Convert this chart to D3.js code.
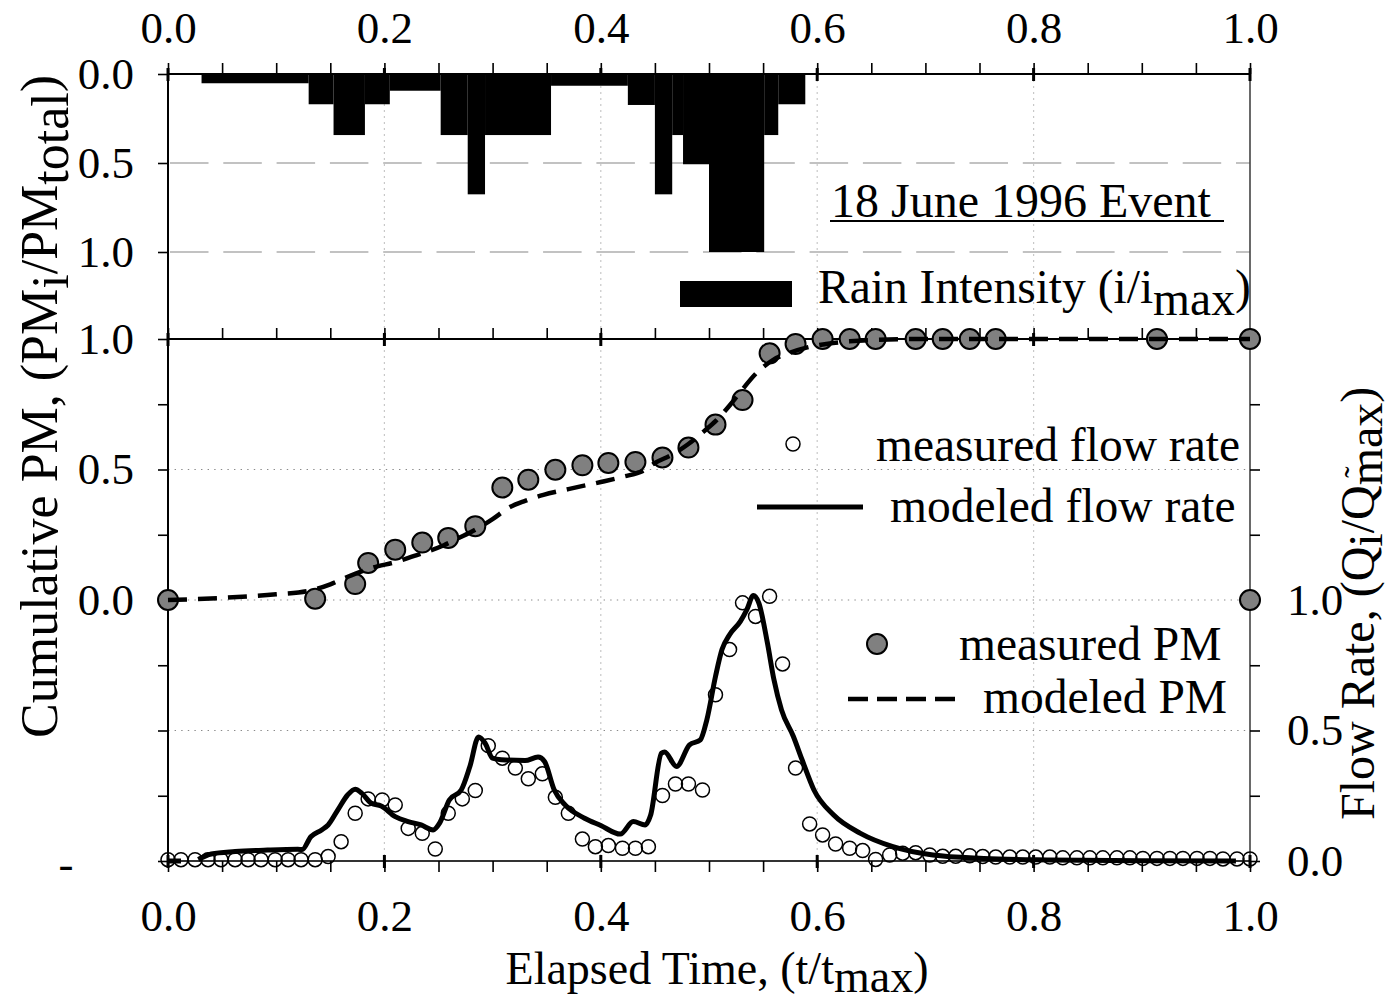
<!DOCTYPE html>
<html>
<head>
<meta charset="utf-8">
<script src="https://cdn.jsdelivr.net/npm/d3@7"></script>
<style>
  body { margin: 0; background: #fff; }
  svg { display: block; font-family: "Liberation Serif", "Times New Roman", serif; }
</style>
</head>
<body>
<svg id="chart" width="1394" height="1003"></svg>
<script>
// Rain hyetograph: interval edges (t/tmax) and normalised intensity (i/imax) per interval
const rainEdges = [0.031, 0.130, 0.153, 0.182, 0.205, 0.252, 0.277, 0.293, 0.354, 0.425, 0.450, 0.466, 0.476, 0.500, 0.551, 0.564, 0.589];
const rainIntensity = [0.052, 0.170, 0.343, 0.170, 0.094, 0.343, 0.676, 0.343, 0.066, 0.174, 0.676, 0.343, 0.507, 1.000, 0.343, 0.170];

// Measured cumulative PM (PMi/PMtotal)
const pmTime = [0.000, 0.136, 0.173, 0.185, 0.210, 0.235, 0.259, 0.284, 0.309, 0.333, 0.358, 0.383, 0.407, 0.432, 0.457, 0.481, 0.506, 0.531, 0.556, 0.580, 0.605, 0.630, 0.654, 0.691, 0.716, 0.741, 0.765, 0.914, 1.000, 1.000];
const pmMeasured = [0.000, 0.005, 0.061, 0.142, 0.193, 0.220, 0.238, 0.283, 0.431, 0.461, 0.499, 0.516, 0.525, 0.529, 0.546, 0.584, 0.672, 0.766, 0.945, 0.981, 1.000, 1.000, 1.000, 1.000, 1.000, 1.000, 1.000, 1.000, 1.000, 0.000];

// Modelled cumulative PM
const pmModelTime = [0.000, 0.050, 0.100, 0.130, 0.150, 0.165, 0.190, 0.210, 0.230, 0.255, 0.270, 0.288, 0.300, 0.316, 0.330, 0.347, 0.370, 0.400, 0.420, 0.440, 0.450, 0.465, 0.480, 0.495, 0.507, 0.520, 0.529, 0.544, 0.559, 0.575, 0.590, 0.610, 0.630, 0.650, 0.700, 1.000];
const pmModel = [0.000, 0.008, 0.022, 0.035, 0.060, 0.087, 0.125, 0.145, 0.172, 0.210, 0.240, 0.279, 0.310, 0.356, 0.380, 0.403, 0.425, 0.452, 0.472, 0.497, 0.525, 0.555, 0.595, 0.645, 0.689, 0.750, 0.797, 0.870, 0.919, 0.948, 0.967, 0.982, 0.991, 0.996, 1.000, 1.000];

// Measured flow rate (Qi/Qmax)
const flowTime = [0.000, 0.012, 0.025, 0.037, 0.049, 0.062, 0.074, 0.086, 0.099, 0.111, 0.123, 0.136, 0.148, 0.160, 0.173, 0.185, 0.198, 0.210, 0.222, 0.235, 0.247, 0.259, 0.272, 0.284, 0.296, 0.309, 0.321, 0.333, 0.346, 0.358, 0.370, 0.383, 0.395, 0.407, 0.420, 0.432, 0.444, 0.457, 0.469, 0.481, 0.494, 0.506, 0.519, 0.531, 0.543, 0.556, 0.568, 0.580, 0.593, 0.605, 0.617, 0.630, 0.642, 0.654, 0.667, 0.679, 0.691, 0.704, 0.716, 0.728, 0.741, 0.753, 0.765, 0.778, 0.790, 0.802, 0.815, 0.827, 0.840, 0.852, 0.864, 0.877, 0.889, 0.901, 0.914, 0.926, 0.938, 0.951, 0.963, 0.975, 0.988, 1.000];
const flowMeasured = [0.005, 0.005, 0.005, 0.005, 0.005, 0.005, 0.005, 0.005, 0.005, 0.005, 0.005, 0.005, 0.017, 0.074, 0.183, 0.238, 0.234, 0.215, 0.125, 0.106, 0.046, 0.183, 0.238, 0.270, 0.442, 0.394, 0.356, 0.315, 0.334, 0.244, 0.183, 0.084, 0.055, 0.059, 0.049, 0.049, 0.055, 0.251, 0.295, 0.295, 0.272, 0.637, 0.810, 0.989, 0.937, 1.014, 0.755, 0.356, 0.142, 0.100, 0.065, 0.049, 0.040, 0.006, 0.023, 0.030, 0.032, 0.023, 0.018, 0.018, 0.020, 0.017, 0.015, 0.015, 0.015, 0.015, 0.015, 0.012, 0.012, 0.012, 0.012, 0.012, 0.012, 0.010, 0.010, 0.010, 0.010, 0.010, 0.010, 0.008, 0.008, 0.008];

// Modelled flow rate (null marks a break in the curve)
const flowModelTime = [0.000, 0.012, 0.020, 0.028, 0.040, 0.062, 0.092, 0.120, 0.124, 0.132, 0.142, 0.148, 0.157, 0.166, 0.173, 0.179, 0.188, 0.197, 0.210, 0.222, 0.234, 0.245, 0.251, 0.260, 0.271, 0.279, 0.287, 0.293, 0.300, 0.308, 0.330, 0.342, 0.348, 0.357, 0.367, 0.385, 0.400, 0.418, 0.430, 0.441, 0.446, 0.456, 0.459, 0.470, 0.482, 0.492, 0.498, 0.506, 0.512, 0.519, 0.529, 0.535, 0.541, 0.546, 0.554, 0.560, 0.567, 0.578, 0.586, 0.597, 0.615, 0.640, 0.670, 0.707, 0.754, 0.815, 0.900, 0.987];
const flowModel = [0.000, 0.000, null, 0.006, 0.027, 0.036, 0.042, 0.045, 0.044, 0.093, 0.119, 0.138, 0.196, 0.253, 0.275, 0.260, 0.221, 0.211, 0.170, 0.151, 0.138, 0.119, 0.145, 0.234, 0.272, 0.362, 0.475, 0.452, 0.394, 0.388, 0.385, 0.398, 0.381, 0.272, 0.215, 0.164, 0.136, 0.103, 0.151, 0.138, 0.175, 0.413, 0.418, 0.362, 0.445, 0.464, 0.541, 0.707, 0.810, 0.867, 0.918, 0.963, 1.017, 0.989, 0.835, 0.695, 0.579, 0.477, 0.388, 0.272, 0.177, 0.106, 0.055, 0.023, 0.010, 0.004, 0.001, 0.000];

// Tick values
const timeTicks = [0, 0.2, 0.4, 0.6, 0.8, 1.0];
const rainTicks = [0, 0.5, 1.0];
const pmTicks = [0, 0.5, 1.0];
const flowTicks = [0, 0.5, 1.0];

const FONT = '"Liberation Serif", "Times New Roman", serif';
const svg = d3.select("#chart");

const x = d3.scaleLinear().domain([0, 1]).range([168, 1250]);
const yRain = d3.scaleLinear().domain([0, 1]).range([74, 252]);
const yPM = d3.scaleLinear().domain([-1, 1]).range([861, 339]);
const yFlow = d3.scaleLinear().domain([0, 2]).range([861, 339]);

const minorT = d3.range(0, 1.0001, 0.05);
const pmQuarter = d3.range(-1, 1.0001, 0.25);
const flowQuarter = d3.range(0, 2.0001, 0.25);

// ---------- grid ----------
const grid = svg.append("g");
grid.selectAll("line.v").data(timeTicks.slice(1, -1)).join("line")
  .attr("x1", d => x(d)).attr("x2", d => x(d))
  .attr("y1", yRain(0)).attr("y2", yPM(-1))
  .attr("stroke", "#c8c8c8").attr("stroke-width", 1.2).attr("stroke-dasharray", "2,4");
grid.selectAll("line.r").data(rainTicks.slice(1)).join("line")
  .attr("x1", x(0) + 2).attr("x2", x(1))
  .attr("y1", d => yRain(d)).attr("y2", d => yRain(d))
  .attr("stroke", "#c2c2c2").attr("stroke-width", 2).attr("stroke-dasharray", "38.5,14.8");
grid.selectAll("line.h").data([yPM(0.5), yPM(0), yFlow(0.5)]).join("line")
  .attr("x1", x(0)).attr("x2", x(1))
  .attr("y1", d => d).attr("y2", d => d)
  .attr("stroke", "#8a8a8a").attr("stroke-width", 1.2).attr("stroke-dasharray", "1.4,5.2");

// ---------- rain bars ----------
svg.append("g").selectAll("rect").data(rainIntensity).join("rect")
  .attr("x", (d, i) => x(rainEdges[i]))
  .attr("width", (d, i) => x(rainEdges[i + 1]) - x(rainEdges[i]))
  .attr("y", yRain(0))
  .attr("height", d => yRain(d) - yRain(0))
  .attr("fill", "#000");

// ---------- axes ----------
function styleAxis(g, size) {
  g.attr("font-family", FONT).attr("font-size", size);
  g.select(".domain").remove();
  g.selectAll("line").attr("stroke", "#000").attr("stroke-width", 1.6);
  g.selectAll("text").attr("fill", "#000");
}

// frame
const frame = svg.append("g").attr("stroke", "#000").attr("stroke-width", 2).attr("fill", "none");
frame.append("line").attr("x1", x(0)).attr("x2", x(1)).attr("y1", yRain(0)).attr("y2", yRain(0));
frame.append("line").attr("x1", x(0)).attr("x2", x(1)).attr("y1", yPM(1)).attr("y2", yPM(1));
frame.append("line").attr("x1", x(0)).attr("x2", x(1)).attr("y1", yPM(-1)).attr("y2", yPM(-1)).attr("stroke", "#333");
frame.append("line").attr("x1", x(0)).attr("x2", x(0)).attr("y1", yRain(0)).attr("y2", yPM(-1));
frame.append("line").attr("x1", x(1)).attr("x2", x(1)).attr("y1", yRain(0)).attr("y2", yPM(-1)).attr("stroke", "#444").attr("stroke-width", 1.6);

// minor time ticks on the three horizontal rules
[[yRain(0), "top"], [yPM(1), "top"], [yPM(-1), "bottom"]].forEach(([yy, side]) => {
  const ax = side === "top" ? d3.axisTop(x) : d3.axisBottom(x);
  svg.append("g").attr("transform", `translate(0,${yy})`)
    .call(ax.tickValues(minorT).tickSize(11).tickSizeOuter(0).tickFormat(""))
    .call(g => styleAxis(g, 10));
  // major ticks cross the rule
  svg.append("g").selectAll("line").data(timeTicks).join("line")
    .attr("x1", d => x(d)).attr("x2", d => x(d))
    .attr("y1", yy - 6).attr("y2", yy + 7)
    .attr("stroke", "#000").attr("stroke-width", 3);
});

// time labels, top and bottom
svg.append("g").attr("transform", `translate(0,${yRain(0)})`)
  .call(d3.axisTop(x).tickValues(timeTicks).tickSize(0).tickPadding(31).tickFormat(d3.format(".1f")))
  .call(g => styleAxis(g, 45));
svg.append("g").attr("transform", `translate(0,${yPM(-1)})`)
  .call(d3.axisBottom(x).tickValues(timeTicks).tickSize(0).tickPadding(38).tickFormat(d3.format(".1f")))
  .call(g => styleAxis(g, 45));

// left: rain intensity
svg.append("g").attr("transform", `translate(${x(0)},0)`)
  .call(d3.axisLeft(yRain).tickValues(rainTicks).tickSize(10).tickSizeOuter(0).tickPadding(24).tickFormat(d3.format(".1f")))
  .call(g => styleAxis(g, 45));
// left: cumulative PM
svg.append("g").attr("transform", `translate(${x(0)},0)`)
  .call(d3.axisLeft(yPM).tickValues(pmQuarter).tickSize(10).tickSizeOuter(0).tickPadding(24)
    .tickFormat(d => pmTicks.includes(d) ? d.toFixed(1) : ""))
  .call(g => styleAxis(g, 45));
svg.append("text").attr("x", 66).attr("y", yPM(-1) + 4).attr("text-anchor", "middle")
  .attr("dy", "0.32em").attr("font-size", 45).text("-");
// right: flow rate
svg.append("g").attr("transform", `translate(${x(1)},0)`)
  .call(d3.axisRight(yFlow).tickValues(flowQuarter).tickSize(10).tickSizeOuter(0).tickPadding(27)
    .tickFormat(d => flowTicks.includes(d) ? d.toFixed(1) : ""))
  .call(g => styleAxis(g, 45));

// ---------- measured flow rate (open circles) ----------
svg.append("g").selectAll("circle").data(flowMeasured).join("circle")
  .attr("cx", (d, i) => x(flowTime[i])).attr("cy", d => yFlow(d)).attr("r", 7)
  .attr("fill", "none").attr("stroke", "#000").attr("stroke-width", 1.5);

// ---------- modelled flow rate ----------
const flowPts = flowModel.map((q, i) => [flowModelTime[i], q]);
svg.append("path").datum(flowPts)
  .attr("d", d3.line().defined(d => d[1] !== null).x(d => x(d[0])).y(d => yFlow(d[1])).curve(d3.curveMonotoneX))
  .attr("fill", "none").attr("stroke", "#000").attr("stroke-width", 5).attr("stroke-linejoin", "round");

// ---------- measured cumulative PM (grey circles) ----------
svg.append("g").selectAll("circle").data(pmMeasured).join("circle")
  .attr("cx", (d, i) => x(pmTime[i])).attr("cy", d => yPM(d)).attr("r", 10)
  .attr("fill", "#808080").attr("stroke", "#000").attr("stroke-width", 2);

// ---------- modelled cumulative PM ----------
const pmPts = pmModel.map((v, i) => [pmModelTime[i], v]);
svg.append("path").datum(pmPts)
  .attr("d", d3.line().x(d => x(d[0])).y(d => yPM(d[1])).curve(d3.curveMonotoneX))
  .attr("fill", "none").attr("stroke", "#000").attr("stroke-width", 4.5).attr("stroke-dasharray", "19,11");

// ---------- legends and annotations ----------
const txt = svg.append("g").attr("font-family", FONT).attr("fill", "#000");

txt.append("text").attr("x", 831).attr("y", 217).attr("font-size", 48).text("18 June 1996 Event");
txt.append("line").attr("x1", 830).attr("x2", 1224).attr("y1", 221).attr("y2", 221)
  .attr("stroke", "#000").attr("stroke-width", 2);

txt.append("rect").attr("x", 680).attr("y", 281).attr("width", 112).attr("height", 26).attr("fill", "#000");
const rl = txt.append("text").attr("x", 818).attr("y", 303).attr("font-size", 47.5);
rl.append("tspan").text("Rain Intensity (i/i");
rl.append("tspan").attr("dy", 12).text("max");
rl.append("tspan").attr("dy", -12).text(")");

txt.append("circle").attr("cx", 793).attr("cy", 444).attr("r", 7)
  .attr("fill", "none").attr("stroke", "#000").attr("stroke-width", 1.5);
txt.append("text").attr("x", 876).attr("y", 461).attr("font-size", 47.5).text("measured flow rate");

txt.append("line").attr("x1", 757).attr("x2", 863).attr("y1", 507).attr("y2", 507)
  .attr("stroke", "#000").attr("stroke-width", 5);
txt.append("text").attr("x", 890).attr("y", 522).attr("font-size", 47.5).text("modeled flow rate");

txt.append("circle").attr("cx", 877).attr("cy", 644).attr("r", 10)
  .attr("fill", "#808080").attr("stroke", "#000").attr("stroke-width", 2);
txt.append("text").attr("x", 959).attr("y", 660).attr("font-size", 47.5).text("measured PM");

txt.append("line").attr("x1", 848).attr("x2", 957).attr("y1", 699).attr("y2", 699)
  .attr("stroke", "#000").attr("stroke-width", 4.5).attr("stroke-dasharray", "20,9");
txt.append("text").attr("x", 983).attr("y", 713).attr("font-size", 47.5).text("modeled PM");

// ---------- axis titles ----------
const xt = txt.append("text").attr("x", 717).attr("y", 984).attr("text-anchor", "middle").attr("font-size", 46);
xt.append("tspan").text("Elapsed Time, (t/t");
xt.append("tspan").attr("dy", 8).text("max");
xt.append("tspan").attr("dy", -8).text(")");

const lt = txt.append("text").attr("transform", "translate(57,738) rotate(-90)").attr("font-size", 52);
lt.append("tspan").text("Cumulative PM, (PM");
lt.append("tspan").attr("dy", 11).text("i");
lt.append("tspan").attr("dy", -11).text("/PM");
lt.append("tspan").attr("dy", 11).text("total");
lt.append("tspan").attr("dy", -11).text(")");

const rt = txt.append("text").attr("transform", "translate(1374,820) rotate(-90)").attr("font-size", 48);
rt.append("tspan").text("Flow Rate, (Q");
rt.append("tspan").attr("dy", 8).text("i");
rt.append("tspan").attr("dy", -8).text("/Q");
rt.append("tspan").attr("dy", 8).text("max");
rt.append("tspan").attr("dy", -8).text(")");
txt.append("text").attr("transform", "translate(1368,472) rotate(-90)").attr("font-size", 34)
  .attr("text-anchor", "middle").text("˜");
</script>
</body>
</html>
